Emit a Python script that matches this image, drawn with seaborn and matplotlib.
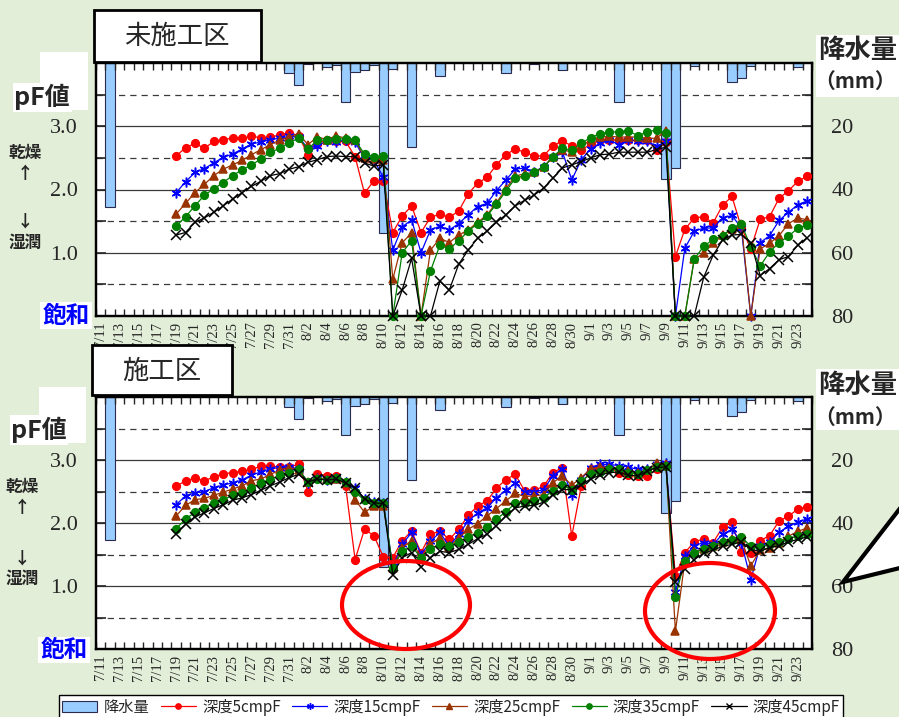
import numpy as np
import pandas as pd
import matplotlib
matplotlib.use("Agg")
import matplotlib.pyplot as plt
import seaborn as sns
from matplotlib.patches import Rectangle, Ellipse, Polygon, Patch
from matplotlib.lines import Line2D
from matplotlib.transforms import IdentityTransform

# ---------------- data ----------------
dates = [f"{d.month}/{d.day}" for d in pd.date_range("2021-07-11", "2021-09-24")]
start_idx = 8  # measurements start 7/19

rain_days = [1, 20, 21, 22, 24, 25, 26, 27, 28, 29, 30, 31, 33, 36, 43, 46, 49, 55, 60, 61, 63, 67, 68, 69, 74]
rain_mm = [45.4, 3.3, 7.0, 0.4, 1.2, 0.7, 12.2, 3.0, 2.1, 0.7, 53.9, 2.0, 26.5, 4.1, 3.2, 0.3, 2.3, 12.2,
           36.8, 33.1, 0.8, 5.9, 4.9, 0.8, 1.2]

# 未施工区 (untreated)
u_5 = [2.53, 2.66, 2.73, 2.65, 2.76, 2.78, 2.82, 2.81, 2.84, 2.82,
       2.83, 2.86, 2.90, 2.85, 2.55, 2.72, 2.79, 2.76, 2.76, 2.52,
       1.94, 2.14, 2.14, 1.32, 1.58, 1.74, 1.32, 1.56, 1.61, 1.56,
       1.66, 1.93, 2.10, 2.19, 2.39, 2.55, 2.64, 2.59, 2.53, 2.53,
       2.69, 2.77, 2.69, 2.62, 2.72, 2.78, 2.79, 2.78, 2.78, 2.78,
       2.78, 2.63, 2.75, 0.94, 1.37, 1.55, 1.57, 1.47, 1.75, 1.89,
       1.40, 1.06, 1.53, 1.57, 1.86, 1.98, 2.13, 2.21]
u_15 = [1.95, 2.12, 2.27, 2.33, 2.42, 2.51, 2.56, 2.64, 2.72, 2.75,
        2.79, 2.81, 2.84, 2.83, 2.65, 2.69, 2.77, 2.75, 2.79, 2.75,
        2.49, 2.47, 2.19, 1.04, 1.41, 1.52, 1.00, 1.36, 1.42, 1.36,
        1.46, 1.60, 1.73, 1.78, 1.98, 2.15, 2.32, 2.34, 2.28, 2.36,
        2.51, 2.60, 2.15, 2.47, 2.64, 2.73, 2.78, 2.71, 2.78, 2.77,
        2.77, 2.68, 2.76, 0.00, 1.07, 1.34, 1.39, 1.39, 1.55, 1.59,
        1.39, 0.00, 1.16, 1.27, 1.51, 1.64, 1.76, 1.82]
u_25 = [1.61, 1.78, 1.95, 2.08, 2.22, 2.32, 2.39, 2.46, 2.55, 2.63,
        2.71, 2.78, 2.83, 2.88, 2.71, 2.83, 2.79, 2.85, 2.81, 2.79,
        2.50, 2.48, 2.47, 0.58, 1.16, 1.31, 0.00, 1.04, 1.23, 1.16,
        1.28, 1.36, 1.48, 1.60, 1.79, 2.01, 2.21, 2.25, 2.27, 2.36,
        2.51, 2.63, 2.59, 2.68, 2.79, 2.83, 2.84, 2.83, 2.83, 2.83,
        2.81, 2.81, 2.93, 0.00, 0.00, 0.90, 0.99, 1.15, 1.28, 1.37,
        1.46, 0.00, 1.06, 1.15, 1.27, 1.46, 1.55, 1.52]
u_35 = [1.42, 1.57, 1.74, 1.91, 2.01, 2.11, 2.22, 2.31, 2.39, 2.48,
        2.59, 2.65, 2.74, 2.81, 2.64, 2.78, 2.78, 2.80, 2.80, 2.78,
        2.56, 2.52, 2.53, 0.00, 1.00, 1.19, 0.00, 0.71, 1.12, 1.06,
        1.19, 1.34, 1.46, 1.58, 1.77, 1.97, 2.18, 2.22, 2.27, 2.35,
        2.52, 2.65, 2.62, 2.73, 2.82, 2.88, 2.91, 2.91, 2.93, 2.85,
        2.91, 2.94, 2.89, 0.00, 0.00, 0.90, 1.10, 1.21, 1.27, 1.39,
        1.46, 1.09, 0.79, 1.01, 1.16, 1.26, 1.39, 1.44]
u_45 = [1.28, 1.32, 1.48, 1.55, 1.64, 1.74, 1.85, 1.95, 2.05, 2.13,
        2.22, 2.25, 2.32, 2.36, 2.43, 2.47, 2.52, 2.53, 2.52, 2.52,
        2.42, 2.37, 2.39, 0.00, 0.41, 0.91, 0.00, 0.00, 0.55, 0.41,
        0.82, 1.04, 1.23, 1.34, 1.48, 1.60, 1.74, 1.83, 1.91, 2.02,
        2.18, 2.34, 2.39, 2.44, 2.50, 2.55, 2.56, 2.59, 2.59, 2.59,
        2.59, 2.63, 2.67, 0.00, 0.00, 0.00, 0.61, 0.96, 1.20, 1.28,
        1.29, 1.16, 0.64, 0.75, 0.89, 0.94, 1.12, 1.24]

# 施工区 (treated)
t_5 = [2.58, 2.67, 2.71, 2.67, 2.73, 2.78, 2.80, 2.82, 2.85, 2.90,
       2.90, 2.89, 2.89, 2.93, 2.50, 2.78, 2.75, 2.75, 2.58, 1.42,
       1.90, 1.80, 1.46, 1.45, 1.72, 1.87, 1.53, 1.82, 1.87, 1.74,
       1.90, 2.12, 2.27, 2.35, 2.55, 2.69, 2.77, 2.51, 2.52, 2.58,
       2.80, 2.88, 1.79, 2.58, 2.86, 2.89, 2.88, 2.80, 2.76, 2.75,
       2.75, 2.85, 2.91, 1.16, 1.53, 1.70, 1.75, 1.69, 1.93, 2.01,
       1.54, 1.52, 1.72, 1.80, 2.03, 2.11, 2.22, 2.26]
t_15 = [2.29, 2.43, 2.48, 2.50, 2.56, 2.60, 2.64, 2.68, 2.76, 2.81,
        2.86, 2.88, 2.89, 2.86, 2.64, 2.72, 2.69, 2.71, 2.65, 2.56,
        2.38, 2.33, 2.32, 1.31, 1.66, 1.85, 1.50, 1.71, 1.85, 1.63,
        1.82, 2.03, 2.16, 2.24, 2.40, 2.52, 2.63, 2.49, 2.49, 2.53,
        2.75, 2.86, 2.45, 2.69, 2.88, 2.93, 2.93, 2.91, 2.89, 2.85,
        2.86, 2.93, 2.96, 0.90, 1.47, 1.64, 1.69, 1.66, 1.82, 1.90,
        1.69, 1.10, 1.64, 1.70, 1.85, 1.95, 2.01, 2.07]
t_25 = [2.11, 2.28, 2.37, 2.39, 2.44, 2.49, 2.54, 2.59, 2.67, 2.70,
        2.77, 2.84, 2.88, 2.84, 2.65, 2.72, 2.70, 2.70, 2.64, 2.37,
        2.17, 2.27, 2.27, 1.29, 1.61, 1.72, 1.45, 1.67, 1.76, 1.62,
        1.76, 1.90, 1.99, 2.11, 2.23, 2.35, 2.47, 2.42, 2.43, 2.45,
        2.64, 2.75, 2.60, 2.72, 2.86, 2.89, 2.88, 2.85, 2.82, 2.80,
        2.84, 2.95, 2.93, 0.28, 1.39, 1.55, 1.58, 1.63, 1.70, 1.74,
        1.74, 1.32, 1.57, 1.61, 1.69, 1.79, 1.87, 1.92]
t_35 = [1.91, 2.06, 2.17, 2.24, 2.31, 2.37, 2.44, 2.48, 2.56, 2.63,
        2.69, 2.76, 2.80, 2.85, 2.65, 2.70, 2.69, 2.72, 2.65, 2.49,
        2.36, 2.32, 2.32, 1.29, 1.55, 1.63, 1.45, 1.59, 1.67, 1.63,
        1.70, 1.78, 1.84, 1.93, 2.06, 2.18, 2.31, 2.32, 2.35, 2.40,
        2.51, 2.60, 2.53, 2.67, 2.77, 2.81, 2.85, 2.85, 2.80, 2.78,
        2.84, 2.89, 2.91, 0.83, 1.40, 1.52, 1.59, 1.63, 1.70, 1.73,
        1.78, 1.63, 1.62, 1.66, 1.70, 1.75, 1.80, 1.83]
t_45 = [1.83, 1.98, 2.10, 2.16, 2.23, 2.29, 2.36, 2.40, 2.45, 2.52,
        2.59, 2.65, 2.72, 2.77, 2.65, 2.70, 2.68, 2.70, 2.63, 2.56,
        2.38, 2.32, 2.31, 1.18, 1.45, 1.53, 1.30, 1.45, 1.55, 1.53,
        1.58, 1.66, 1.75, 1.82, 1.96, 2.11, 2.24, 2.27, 2.28, 2.33,
        2.45, 2.53, 2.53, 2.60, 2.70, 2.76, 2.80, 2.81, 2.76, 2.75,
        2.82, 2.88, 2.89, 1.06, 1.27, 1.42, 1.52, 1.57, 1.63, 1.66,
        1.70, 1.58, 1.55, 1.61, 1.64, 1.70, 1.74, 1.78]

series_names = ["深度5cmpF", "深度15cmpF", "深度25cmpF", "深度35cmpF", "深度45cmpF"]
colors = ["#FF0000", "#0000FF", "#993300", "#008000", "#000000"]
markers = ["o", (6, 2, 0), "^", "o", "x"]
msizes = [5.5, 7, 6, 5.5, 6.5]

# ---------------- figure ----------------
W, H = 899, 717
sns.set_style("white")
plt.rcParams["font.family"] = ["Noto Sans CJK JP", "DejaVu Sans"]
BG = "#E3EED9"
fig = plt.figure(figsize=(W / 100, H / 100), dpi=100, facecolor=BG)
SERIF = "Liberation Serif"


def fx(x):
    return x / W


def fy(y):
    return 1 - y / H


def panel(top, bottom, data):
    ax = fig.add_axes([fx(96), fy(bottom), 716 / W, (bottom - top) / H])
    ax2 = ax.twinx()
    ax2.set_zorder(1)
    ax.set_zorder(2)
    ax.patch.set_visible(False)
    ax2.patch.set_visible(True)
    ax2.patch.set_facecolor("white")

    # grid (aligned with pF grid)
    for v in [20, 40, 60]:
        ax2.axhline(v, color="#3a3a3a", lw=0.9, zorder=0)
    for v in [10, 30, 50, 70]:
        ax2.axhline(v, color="#3a3a3a", lw=0.9, ls=(0, (5, 4)), zorder=0)

    rdf = pd.DataFrame({"day": rain_days, "mm": rain_mm})
    sns.barplot(data=rdf, x="day", y="mm", ax=ax2, native_scale=True, width=1.0,
                color="#99CCFF", saturation=1, edgecolor="#2b2b4f", linewidth=0.8,
                errorbar=None, zorder=2)
    ax2.set_ylim(80, 0)
    ax2.set_yticks(np.arange(0, 81, 10))
    ax2.set_yticklabels(["" if v not in (20, 40, 60, 80) else str(v) for v in range(0, 81, 10)],
                        fontfamily=SERIF, fontsize=16)
    ax2.tick_params(axis="y", direction="in", length=7, width=1.2, pad=14, right=True)
    ax2.set_xlabel("")
    ax2.set_ylabel("")

    days = np.arange(start_idx, start_idx + len(data[0]))
    for i, vals in enumerate(data):
        sns.lineplot(x=days, y=vals, ax=ax, color=colors[i], marker=markers[i],
                     markersize=msizes[i], markerfacecolor=colors[i], markeredgecolor=colors[i],
                     markeredgewidth=1.1, linewidth=0.9, clip_on=False, zorder=3 + i)

    ax.set_ylim(0, 4)
    ax.set_yticks(np.arange(0, 4.01, 0.5))
    ax.set_yticklabels(["", "", "1.0", "", "2.0", "", "3.0", "", ""], fontfamily=SERIF, fontsize=16)
    ax.tick_params(axis="y", direction="in", length=7, width=1.2, pad=13)
    ax.set_xlim(-0.5, 75.5)
    ax.set_xticks(np.arange(0, 76, 2))
    ax.set_xticklabels(dates[::2], rotation=90, fontfamily=SERIF, fontsize=10.5)
    ax.set_xticks(np.arange(-0.5, 76, 1), minor=True)
    ax.tick_params(axis="x", which="major", length=0, pad=4)
    ax.tick_params(axis="x", which="minor", direction="in", length=5, width=1, top=True, bottom=True)
    ax.set_xlabel("")
    ax.set_ylabel("")
    for a in (ax, ax2):
        for s in a.spines.values():
            s.set_linewidth(1.6)
            s.set_color("black")
    return ax, ax2


panel(63, 316, [u_5, u_15, u_25, u_35, u_45])
panel(397, 649, [t_5, t_15, t_25, t_35, t_45])


def rect(x0, y0, x1, y1, fc="white", ec="none", lw=0, z=10):
    fig.add_artist(Rectangle((fx(x0), fy(y1)), (x1 - x0) / W, (y1 - y0) / H,
                             transform=fig.transFigure, facecolor=fc, edgecolor=ec, lw=lw, zorder=z))


def txt(x, y, s, **kw):
    fig.text(fx(x), fy(y), s, ha="center", va="center", zorder=12, **kw)


# title boxes
rect(94, 10, 261, 62, ec="black", lw=2)
txt(177, 36, "未施工区", fontsize=19)
rect(92, 345, 232, 395, ec="black", lw=2)
txt(162, 371, "施工区", fontsize=19)

# left labels (upper panel)
rect(40, 52, 88, 110)
rect(13, 83, 72, 112)
txt(42, 97, "pF値", fontsize=18, fontweight="bold")
txt(25, 153, "乾燥", fontsize=12, fontweight="bold")
txt(25, 174, "↑", fontsize=12, fontweight="bold")
txt(25, 222, "↓", fontsize=12, fontweight="bold")
txt(25, 243, "湿潤", fontsize=12, fontweight="bold")
rect(40, 302, 92, 329)
txt(66, 316, "飽和", fontsize=17, fontweight="bold", color="#0000FF")

# left labels (lower panel)
rect(39, 387, 86, 443)
rect(10, 415, 68, 445)
txt(39, 430, "pF値", fontsize=18, fontweight="bold")
txt(22, 487, "乾燥", fontsize=12, fontweight="bold")
txt(22, 508, "↑", fontsize=12, fontweight="bold")
txt(22, 559, "↓", fontsize=12, fontweight="bold")
txt(22, 579, "湿潤", fontsize=12, fontweight="bold")
rect(38, 637, 90, 663)
txt(64, 650, "飽和", fontsize=17, fontweight="bold", color="#0000FF")

# right labels
rect(816, 35, 899, 97)
txt(858, 50, "降水量", fontsize=19, fontweight="bold")
txt(855, 81, "（mm）", fontsize=15, fontweight="bold")
rect(816, 369, 899, 430)
txt(858, 385, "降水量", fontsize=19, fontweight="bold")
txt(855, 417, "（mm）", fontsize=15, fontweight="bold")

# annotations (pixel coords)
idt = IdentityTransform()
for (cx, cy, w, h) in [(406, 605, 128, 88), (710, 611, 130, 96)]:
    fig.add_artist(Ellipse((cx, H - cy), w, h, transform=idt, facecolor="none",
                           edgecolor="#FF0000", lw=3, zorder=11))
fig.add_artist(Polygon([(843, H - 582), (908, H - 498), (908, H - 566)], closed=True,
                       transform=idt, facecolor="white", edgecolor="black", lw=3, zorder=11))

# legend
handles = [Patch(facecolor="#99CCFF", edgecolor="#2b2b4f", lw=0.8)]
for i in range(5):
    handles.append(Line2D([], [], color=colors[i], marker=markers[i], markersize=msizes[i] * 0.7,
                          markerfacecolor=colors[i], markeredgecolor=colors[i], lw=0.9))
leg = fig.legend(handles, ["降水量"] + series_names, loc="center", ncol=6,
                 bbox_to_anchor=(fx(451), fy(707)), frameon=True, fancybox=False,
                 edgecolor="black", framealpha=1, fontsize=11, handlelength=2.3,
                 handletextpad=0.4, columnspacing=0.75, borderpad=0.2)
leg.get_frame().set_linewidth(1.0)
leg.set_zorder(12)

fig.savefig("out.png", dpi=100, facecolor=BG)
